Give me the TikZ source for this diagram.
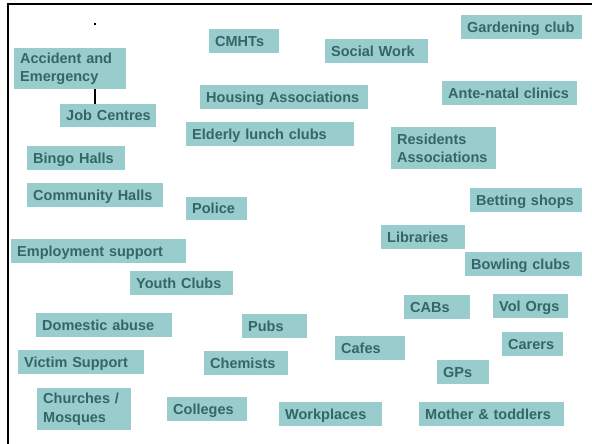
\documentclass[tikz,border=0pt]{standalone}
\usepackage{fontspec}
\setmainfont{Liberation Sans}
\begin{document}
\definecolor{boxfill}{HTML}{99CCCC}
\definecolor{boxtext}{HTML}{336666}
\begin{tikzpicture}[x=1pt,y=-1pt,
  box/.style={fill=boxfill, text=boxtext, anchor=north west,
    font=\bfseries\fontsize{14.5}{18.5}\selectfont, align=left,
    inner xsep=6pt, inner ysep=0pt},
  % single-line labels are kept on one line
  one/.style={box, text height=10pt, text depth=0pt,
    execute at begin node=\hbox\bgroup, execute at end node=\egroup},
  frame/.style={line width=2.2pt, black},
  link/.style={line width=2.4pt, black}]
\useasboundingbox (0,0) rectangle (592,444);

% frame on the top and left sides
\draw[frame] (592,4) -- (8,4) -- (8,444);

% small mark above the first box
\node[fill=black, inner sep=0pt, minimum size=2pt] (tick) at (95,24) {};

% services
\node[box, text width=100pt, minimum height=41pt] (ae) at (14,48) {Accident and\\Emergency};
\node[one, text width=84pt,  minimum height=23pt] (jc) at (60,104) {Job Centres};
\node[one, text width=58pt,  minimum height=24pt] (cmht) at (209,29) {CMHTs};
\node[one, text width=91pt,  minimum height=24pt] (sw) at (325,39) {Social Work};
\node[one, text width=109pt, minimum height=24pt] (garden) at (461,15) {Gardening club};
\node[one, text width=156pt, minimum height=24pt] (housing) at (200,85) {Housing Associations};
\node[one, text width=123pt, minimum height=24pt] (ante) at (442,81) {Ante-natal clinics};
\node[one, text width=156pt, minimum height=24pt] (elderly) at (186,122) {Elderly lunch clubs};
\node[box, text width=93pt,  minimum height=42pt] (resid) at (391,127) {Residents\\Associations};
\node[one, text width=86pt,  minimum height=24pt] (bingo) at (27,146) {Bingo Halls};
\node[one, text width=124pt, minimum height=24pt] (comm) at (27,183) {Community Halls};
\node[one, text width=49pt,  minimum height=23pt] (police) at (186,197) {Police};
\node[one, text width=100pt, minimum height=24pt] (betting) at (470,188) {Betting shops};
\node[one, text width=163pt, minimum height=24pt] (employ) at (11,239) {Employment support};
\node[one, text width=72pt,  minimum height=24pt] (libr) at (381,225) {Libraries};
\node[one, text width=105pt, minimum height=24pt] (bowling) at (465,252) {Bowling clubs};
\node[one, text width=91pt,  minimum height=24pt] (youth) at (130,271) {Youth Clubs};
\node[one, text width=54pt,  minimum height=24pt] (cabs) at (404,295) {CABs};
\node[one, text width=63pt,  minimum height=24pt] (vol) at (493,294) {Vol Orgs};
\node[one, text width=124pt, minimum height=24pt] (domestic) at (36,313) {Domestic abuse};
\node[one, text width=53pt,  minimum height=24pt] (pubs) at (242,314) {Pubs};
\node[one, text width=58pt,  minimum height=24pt] (cafes) at (335,336) {Cafes};
\node[one, text width=49pt,  minimum height=24pt] (carers) at (502,332) {Carers};
\node[one, text width=114pt, minimum height=24pt] (victim) at (18,350) {Victim Support};
\node[one, text width=72pt,  minimum height=24pt] (chem) at (204,351) {Chemists};
\node[one, text width=40pt,  minimum height=24pt] (gps) at (437,360) {GPs};
\node[box, text width=82pt,  minimum height=42pt] (church) at (37,388) {Churches /\\Mosques};
\node[one, text width=68pt,  minimum height=24pt] (colleges) at (167,397) {Colleges};
\node[one, text width=91pt,  minimum height=24pt] (work) at (279,402) {Workplaces};
\node[one, text width=133pt, minimum height=24pt] (mother) at (419,402) {Mother \& toddlers};

% connector between the first two boxes
\draw[link] (ae.south -| tick) -- (jc.north -| tick);
\end{tikzpicture}
\end{document}
